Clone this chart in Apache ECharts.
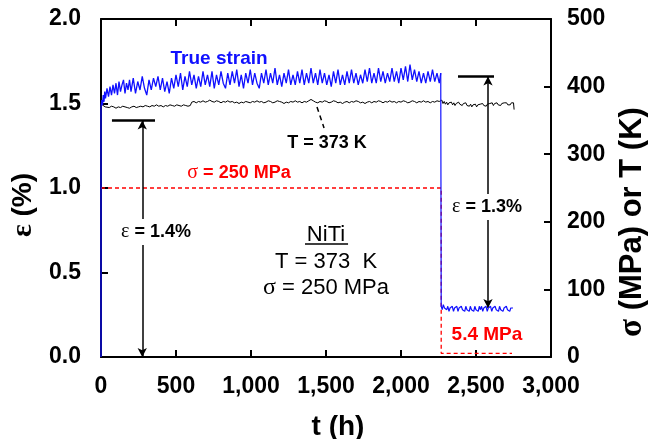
<!DOCTYPE html>
<html>
<head>
<meta charset="utf-8">
<script src="https://cdn.jsdelivr.net/npm/echarts@6/dist/echarts.min.js"></script>
<style>
  html, body { margin: 0; padding: 0; background: #fff; }
  #chart { width: 648px; height: 439px; }
</style>
</head>
<body>
<div id="chart"></div>
<script>
// Axis ticks and their printed labels
const timeTicks = [0, 500, 1000, 1500, 2000, 2500, 3000];
const timeTickLabels = ['0', '500', '1,000', '1,500', '2,000', '2,500', '3,000'];
const strainTickLabels = ['0.0', '0.5', '1.0', '1.5', '2.0'];
const stressTickLabels = ['0', '100', '200', '300', '400', '500'];

// True strain (%) during the 250 MPa hold, [t (h), strain]
const strainLoaded = [
  [0, 0], [0, 1.48], [5, 1.52], [10, 1.49], [15, 1.55], [20, 1.51], [25, 1.57], [30, 1.53], [40, 1.59],
  [50, 1.54], [60, 1.60], [70, 1.55], [80, 1.61], [90, 1.56], [100, 1.62], [110, 1.55], [120, 1.63],
  [130, 1.57], [140, 1.61], [150, 1.64], [160, 1.56], [170, 1.62], [180, 1.58], [190, 1.64], [200, 1.57],
  [215, 1.65], [230, 1.56], [245, 1.63], [260, 1.58], [275, 1.66], [290, 1.59], [305, 1.55], [320, 1.64],
  [335, 1.58], [350, 1.65], [365, 1.60], [380, 1.66], [395, 1.58], [410, 1.65], [425, 1.57], [440, 1.63],
  [455, 1.56], [470, 1.65], [485, 1.59], [500, 1.67], [515, 1.60], [530, 1.68], [545, 1.58], [560, 1.66],
  [575, 1.60], [590, 1.69], [605, 1.61], [620, 1.67], [635, 1.59], [650, 1.66], [665, 1.60], [680, 1.69],
  [695, 1.61], [710, 1.67], [725, 1.60], [740, 1.69], [755, 1.59], [770, 1.67], [785, 1.61], [800, 1.69],
  [815, 1.62], [830, 1.59], [845, 1.68], [860, 1.61], [875, 1.69], [890, 1.62], [905, 1.70], [920, 1.60],
  [935, 1.67], [950, 1.59], [965, 1.68], [980, 1.62], [995, 1.70], [1010, 1.61], [1025, 1.68], [1040, 1.62],
  [1055, 1.59], [1070, 1.68], [1085, 1.62], [1100, 1.70], [1115, 1.61], [1130, 1.68], [1145, 1.62], [1160, 1.71],
  [1175, 1.61], [1190, 1.67], [1205, 1.60], [1220, 1.68], [1235, 1.62], [1250, 1.70], [1265, 1.61], [1280, 1.67],
  [1295, 1.61], [1310, 1.69], [1325, 1.62], [1340, 1.70], [1355, 1.61], [1370, 1.68], [1385, 1.62], [1400, 1.71],
  [1415, 1.62], [1430, 1.68], [1445, 1.61], [1460, 1.70], [1475, 1.62], [1490, 1.68], [1505, 1.61], [1520, 1.67],
  [1535, 1.60], [1550, 1.69], [1565, 1.62], [1580, 1.70], [1595, 1.61], [1610, 1.67], [1625, 1.61], [1640, 1.69],
  [1655, 1.62], [1670, 1.70], [1685, 1.62], [1700, 1.68], [1715, 1.61], [1730, 1.67], [1745, 1.62], [1760, 1.70],
  [1775, 1.63], [1790, 1.71], [1805, 1.62], [1820, 1.68], [1835, 1.62], [1850, 1.71], [1865, 1.63], [1880, 1.69],
  [1895, 1.62], [1910, 1.68], [1925, 1.63], [1940, 1.71], [1955, 1.63], [1970, 1.69], [1985, 1.62], [2000, 1.71],
  [2015, 1.64], [2030, 1.72], [2045, 1.63], [2060, 1.73], [2075, 1.64], [2090, 1.70], [2105, 1.63], [2120, 1.69],
  [2135, 1.62], [2150, 1.68], [2165, 1.62], [2180, 1.69], [2195, 1.63], [2210, 1.70], [2225, 1.63], [2240, 1.68],
  [2255, 1.62], [2265, 1.68]
];

// True strain (%) after unloading to 5.4 MPa
const strainUnloaded = [
  [2265, 1.68], [2268, 0.30], [2275, 0.28], [2282, 0.31], [2290, 0.29], [2297, 0.30], [2305, 0.28], [2312, 0.30],
  [2320, 0.27], [2327, 0.29], [2335, 0.28], [2342, 0.30], [2350, 0.27], [2357, 0.29], [2365, 0.28], [2372, 0.30],
  [2380, 0.27], [2387, 0.29], [2395, 0.28], [2402, 0.30], [2410, 0.28], [2417, 0.29], [2425, 0.27], [2432, 0.30],
  [2440, 0.28], [2447, 0.29], [2455, 0.27], [2462, 0.30], [2470, 0.28], [2477, 0.29], [2485, 0.27], [2492, 0.30],
  [2500, 0.28], [2507, 0.29], [2515, 0.27], [2522, 0.30], [2530, 0.28], [2537, 0.30], [2545, 0.27], [2552, 0.29],
  [2560, 0.28], [2567, 0.30], [2575, 0.27], [2582, 0.29], [2590, 0.28], [2597, 0.30], [2605, 0.27], [2612, 0.29],
  [2620, 0.28], [2627, 0.30], [2635, 0.28], [2642, 0.29], [2650, 0.27], [2657, 0.30], [2665, 0.28], [2672, 0.29],
  [2680, 0.27], [2687, 0.29], [2695, 0.28], [2702, 0.30], [2710, 0.28], [2717, 0.29], [2725, 0.27], [2732, 0.29],
  [2740, 0.28], [2747, 0.29]
];

// Furnace temperature (K), [t (h), T]
const temperature = [
  [0, 376], [8, 373], [16, 371], [28, 370], [40, 371], [55, 369], [70, 371], [85, 370], [100, 368], [115, 370],
  [130, 369], [145, 371], [160, 370], [175, 369], [190, 368], [205, 370], [220, 371], [235, 369], [250, 370],
  [265, 371], [280, 370], [295, 372], [310, 371], [325, 370], [340, 372], [355, 371], [370, 373], [385, 371],
  [400, 372], [415, 370], [430, 372], [445, 371], [460, 373], [475, 372], [490, 371], [505, 373], [520, 372],
  [535, 371], [550, 373], [565, 372], [580, 371], [595, 372], [605, 377], [620, 378], [635, 376], [650, 378],
  [665, 377], [680, 379], [695, 377], [710, 378], [725, 380], [740, 378], [755, 377], [770, 379], [785, 378],
  [800, 376], [815, 378], [830, 377], [845, 379], [860, 377], [875, 378], [890, 376], [905, 377], [920, 375],
  [935, 377], [950, 376], [965, 378], [980, 377], [995, 376], [1010, 378], [1025, 377], [1040, 379], [1055, 377],
  [1070, 378], [1085, 376], [1100, 377], [1115, 379], [1130, 378], [1145, 376], [1160, 377], [1175, 379],
  [1190, 378], [1205, 377], [1220, 375], [1235, 377], [1250, 376], [1265, 378], [1280, 377], [1295, 379],
  [1310, 377], [1325, 378], [1340, 376], [1355, 378], [1370, 377], [1385, 379], [1400, 381], [1415, 379],
  [1430, 377], [1445, 376], [1460, 378], [1475, 377], [1490, 379], [1505, 378], [1520, 376], [1535, 377],
  [1550, 379], [1565, 378], [1580, 376], [1595, 377], [1610, 375], [1625, 377], [1640, 378], [1655, 376],
  [1670, 378], [1685, 377], [1700, 379], [1715, 378], [1730, 376], [1745, 377], [1760, 375], [1775, 377],
  [1790, 378], [1805, 376], [1820, 378], [1835, 377], [1850, 379], [1865, 378], [1880, 376], [1895, 378],
  [1910, 377], [1925, 379], [1940, 377], [1955, 378], [1970, 376], [1985, 378], [2000, 377], [2015, 379],
  [2030, 378], [2045, 376], [2060, 377], [2075, 379], [2090, 378], [2105, 376], [2120, 378], [2135, 377],
  [2150, 379], [2165, 377], [2180, 378], [2195, 376], [2210, 378], [2225, 377], [2240, 379], [2255, 378],
  [2265, 377], [2272, 380], [2280, 375], [2288, 378], [2296, 374], [2304, 377], [2312, 373], [2320, 376],
  [2328, 374], [2336, 377], [2344, 373], [2352, 376], [2360, 372], [2368, 375], [2376, 373], [2384, 377],
  [2392, 374], [2400, 376], [2408, 372], [2416, 375], [2424, 373], [2432, 376], [2440, 372], [2448, 374],
  [2456, 371], [2464, 374], [2472, 370], [2480, 373], [2488, 371], [2496, 374], [2504, 370], [2512, 373],
  [2520, 371], [2528, 374], [2536, 372], [2544, 375], [2552, 372], [2560, 374], [2568, 371], [2576, 374],
  [2584, 372], [2592, 375], [2600, 373], [2608, 376], [2616, 372], [2624, 375], [2632, 373], [2640, 376],
  [2648, 373], [2656, 375], [2664, 372], [2672, 375], [2680, 373], [2688, 376], [2696, 374], [2704, 376],
  [2712, 373], [2720, 375], [2728, 373], [2736, 376], [2744, 374], [2750, 376], [2754, 366]
];

// Applied stress history (MPa)
const stress = [[0, 250], [2268, 250], [2268, 5.4], [2740, 5.4]];

// Strain change markers: [time of arrow, low strain, high strain, bar start, bar end]
const strainStepLoad = [275, 0, 1.4, 73, 360];
const strainStepUnload = [2580, 0.29, 1.66, 2380, 2620];

const FONT = '"Liberation Sans", Arial, sans-serif';
const GREEK = '"Liberation Serif", "Times New Roman", serif';

const axisLineStyle = { color: '#000', width: 2 };
const tickStyle = { inside: true, length: 7, lineStyle: { color: '#000', width: 2 } };
const tickLabel = { color: '#000', fontFamily: FONT, fontWeight: 'bold', fontSize: 23 };
const nameStyle = { color: '#000', fontFamily: FONT, fontWeight: 'bold', fontSize: 28 };

function note(t, v, text, style, greek) {
  const color = (style && style.color) || '#000';
  const base = {
    show: true, position: 'inside', formatter: text,
    color: '#000', fontFamily: FONT, fontSize: 18, fontWeight: 'bold', opacity: 1
  };
  const label = Object.assign(base, style || {});
  label.rich = { g: Object.assign({ fontFamily: GREEK, fontSize: label.fontSize + 2, fontWeight: 'normal', color: color }, greek || {}) };
  return { value: [t, v], label: label };
}

const notes = [
  note(787, 1.763, 'True strain', { color: '#1010ff', fontSize: 19 }),
  note(1507, 1.266, 'T = 373 K'),
  note(920, 1.089, '{g|σ} = 250 MPa', { color: '#ff0000' }),
  note(367, 0.74, '{g|ε} = 1.4%', { backgroundColor: '#fff', padding: [3, 1] }),
  note(2573, 0.888, '{g|ε} = 1.3%', { backgroundColor: '#fff', padding: [3, 1] }),
  note(2573, 0.13, '5.4 MPa', { color: '#ff0000', fontSize: 19 }),
  note(1500, 0.722, 'NiTi', { fontWeight: 'normal', fontSize: 22 }),
  note(1500, 0.562, 'T = 373  K', { fontWeight: 'normal', fontSize: 22 }),
  note(1500, 0.408, '{g|σ} = 250 MPa', { fontWeight: 'normal', fontSize: 22 })
];

function seg(a, b, extra) {
  return [Object.assign({ coord: a }, extra || {}), Object.assign({ coord: b }, extra || {})];
}
const arrowEnds = { symbol: 'arrow' };

const option = {
  animation: false,
  backgroundColor: '#fff',
  grid: { left: 101, right: 97, top: 19, bottom: 82, containLabel: false, outerBoundsMode: 'none' },
  xAxis: [
    {
      type: 'value', min: 0, max: 3000, interval: 500, position: 'bottom',
      axisLine: { onZero: false, lineStyle: axisLineStyle },
      axisTick: tickStyle,
      splitLine: { show: false },
      axisLabel: Object.assign({ margin: 18, formatter: v => timeTickLabels[timeTicks.indexOf(v)] }, tickLabel),
      name: 't (h)', nameLocation: 'middle', nameGap: 56,
      nameTextStyle: Object.assign({ padding: [0, 0, 0, 24] }, nameStyle)
    },
    {
      type: 'value', min: 0, max: 3000, interval: 500, position: 'top',
      axisLine: { onZero: false, lineStyle: axisLineStyle },
      axisTick: tickStyle,
      splitLine: { show: false },
      axisLabel: { show: false }
    }
  ],
  yAxis: [
    {
      type: 'value', min: 0, max: 2, interval: 0.5, position: 'left',
      axisLine: { show: true, onZero: false, lineStyle: axisLineStyle },
      axisTick: tickStyle,
      splitLine: { show: false },
      axisLabel: Object.assign({ margin: 20, formatter: v => strainTickLabels[Math.round(v / 0.5)] }, tickLabel),
      name: '{g|ε} (%)', nameLocation: 'middle', nameGap: 62, nameRotate: 90,
      nameTextStyle: Object.assign({
        padding: [0, 34, 0, 0],
        rich: { g: { fontFamily: GREEK, fontSize: 30, color: '#000' } }
      }, nameStyle)
    },
    {
      type: 'value', min: 0, max: 500, interval: 100, position: 'right',
      axisLine: { show: true, onZero: false, lineStyle: axisLineStyle },
      axisTick: tickStyle,
      splitLine: { show: false },
      axisLabel: Object.assign({ margin: 16, formatter: v => stressTickLabels[Math.round(v / 100)] }, tickLabel),
      name: '{g|σ} (MPa) or T (K)', nameLocation: 'middle', nameGap: 60, nameRotate: 90,
      nameTextStyle: Object.assign({
        padding: [0, 68, 0, 0],
        rich: { g: { fontFamily: GREEK, fontSize: 33, color: '#000' } }
      }, nameStyle, { fontSize: 31 })
    }
  ],
  series: [
    {
      name: 'Stress', type: 'line', yAxisIndex: 1, data: stress,
      showSymbol: false, symbol: 'none', z: 3,
      lineStyle: { color: '#ff0000', width: 1.3, type: [4, 3] }
    },
    {
      name: 'Temperature', type: 'line', yAxisIndex: 1, data: temperature,
      showSymbol: false, symbol: 'none', z: 4,
      lineStyle: { color: '#000', width: 1 }
    },
    {
      name: 'True strain', type: 'line', yAxisIndex: 0, data: strainLoaded,
      showSymbol: false, symbol: 'none', z: 5,
      lineStyle: { color: '#1010ff', width: 1.3 }
    },
    {
      name: 'True strain (unloaded)', type: 'line', yAxisIndex: 0, data: strainUnloaded,
      showSymbol: false, symbol: 'none', z: 5,
      lineStyle: { color: '#1010ff', width: 1.2 }
    },
    {
      name: 'Notes', type: 'scatter', yAxisIndex: 0, data: notes,
      symbolSize: 1, itemStyle: { color: 'rgba(255,255,255,0)' }, z: 10, silent: true,
      markLine: {
        silent: true, symbol: 'none', symbolSize: [7, 9],
        label: { show: false },
        lineStyle: { color: '#000', width: 1.5, type: 'solid' },
        data: [
          seg([strainStepLoad[0], strainStepLoad[1]], [strainStepLoad[0], strainStepLoad[2]], arrowEnds),
          seg([strainStepLoad[3], strainStepLoad[2]], [strainStepLoad[4], strainStepLoad[2]], { lineStyle: { width: 2.5 } }),
          seg([strainStepUnload[0], strainStepUnload[1]], [strainStepUnload[0], strainStepUnload[2]], arrowEnds),
          seg([strainStepUnload[3], strainStepUnload[2]], [strainStepUnload[4], strainStepUnload[2]], { lineStyle: { width: 2.5 } }),
          seg([1440, 1.479], [1487, 1.355], { lineStyle: { type: [5, 4], width: 1.5 } }),
          seg([1360, 0.669], [1647, 0.669], { lineStyle: { width: 1.5 } })
        ]
      }
    }
  ]
};

const chart = echarts.init(document.getElementById('chart'), null, { renderer: 'canvas' });
chart.setOption(option);
</script>
</body>
</html>
